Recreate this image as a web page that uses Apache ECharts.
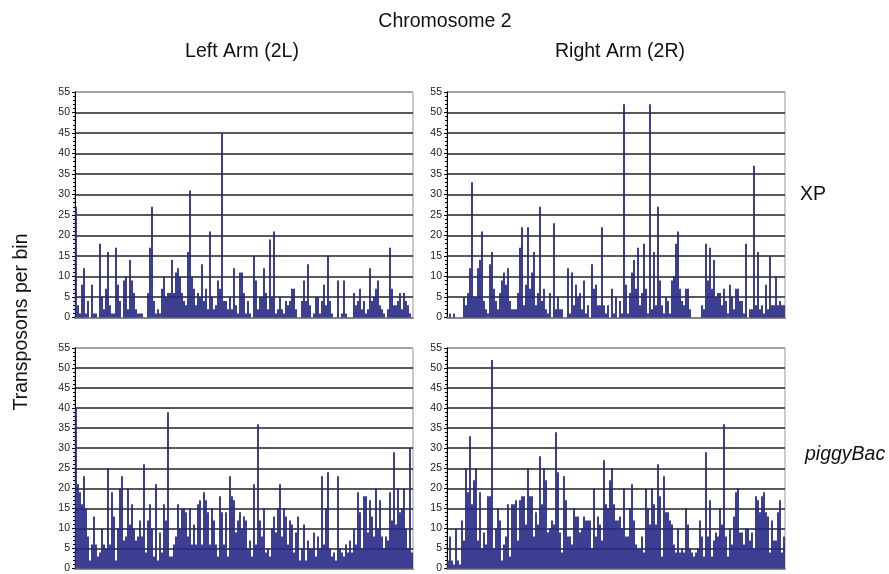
<!DOCTYPE html>
<html>
<head>
<meta charset="utf-8">
<style>
html, body { margin: 0; padding: 0; background: #fff; }
#chart { width: 889px; height: 574px; }
</style>
<script src="https://cdn.jsdelivr.net/npm/echarts@6/dist/echarts.min.js"></script>
</head>
<body>
<div id="chart"></div>
<script>
// transposons per bin (169 bins per arm)
var xpLeft = [27,3,1,8,12,1,4,0,8,1, 1,0,18,5,2,7,16,3,1,1, 17,8,4,0,9,10,2,14,9,6, 2,1,1,1,0,0,6,17,27,4,
  1,2,1,7,10,5,6,6,14,6, 11,12,10,6,4,3,16,31,10,7, 3,6,5,13,4,7,2,21,5,2, 3,9,7,45,4,4,2,5,2,12,
  3,1,11,11,6,1,4,1,0,15, 9,2,5,5,12,6,2,19,5,21, 1,2,5,2,1,4,3,4,7,7, 2,0,0,4,9,4,13,3,0,1,
  5,5,1,4,8,3,15,4,1,0, 0,9,0,1,9,1,0,0,0,6, 3,4,7,2,4,1,2,12,4,5, 7,9,3,2,1,0,2,17,7,3,
  3,4,6,2,6,4,3,1,0]
var xpRight = [0,1,0,1,0,0,0,0,5,3, 6,12,33,5,5,12,14,21,4,2, 1,13,16,7,4,2,6,9,11,8, 12,4,2,2,2,6,17,22,3,8,
  22,7,11,16,3,6,27,4,7,2, 1,6,0,23,2,5,2,2,0,0, 12,1,11,3,8,5,6,2,9,1, 3,0,13,7,8,3,3,22,3,1,
  3,0,7,1,5,0,4,1,52,8, 1,6,11,14,7,17,3,6,18,7, 1,52,2,16,3,27,9,3,1,5, 4,1,9,10,18,21,7,4,3,7,
  7,2,0,0,0,0,0,3,2,18, 9,17,7,14,5,6,6,3,7,4, 1,8,5,2,7,7,4,4,1,18, 0,2,2,37,3,16,2,3,1,8,
  2,15,3,3,10,3,4,3,3]
var pbLeft = [40,21,19,16,23,15,8,2,6,13, 6,3,4,10,6,5,25,6,19,13, 2,10,20,23,7,8,20,11,16,10, 7,8,12,8,26,4,12,16,10,3,
  21,2,9,4,16,12,39,3,3,6, 8,16,10,15,15,14,8,15,6,11, 6,16,17,6,19,17,14,6,15,12, 6,3,18,14,6,14,3,23,18,17,
  9,12,14,10,13,12,5,7,3,21, 6,36,12,8,15,4,5,3,10,13, 9,15,21,8,15,13,6,12,11,4, 9,13,2,5,11,2,7,5,5,9,
  3,8,5,23,6,15,24,5,3,4, 2,23,5,4,3,6,4,7,4,10, 6,19,14,5,18,18,9,17,13,8, 20,10,17,8,5,8,7,19,12,29,
  11,20,14,15,20,10,5,30,4]
var pbRight = [2,8,2,1,10,2,1,12,7,25, 19,33,16,22,25,7,19,5,9,6, 18,18,52,5,10,15,12,2,6,8, 16,3,16,16,17,7,17,18,18,11,
  25,18,18,8,14,11,28,16,25,22, 9,10,12,11,34,24,9,4,23,17, 8,8,6,15,13,13,9,10,13,12, 12,12,5,20,8,13,11,7,27,16,
  15,22,25,16,12,12,13,10,20,8, 8,15,21,12,6,5,5,8,4,20, 15,11,20,16,11,26,18,3,23,14, 14,12,11,6,4,10,4,5,4,15,
  11,5,4,3,4,5,12,8,3,29, 8,17,3,7,9,8,15,11,36,8, 3,10,6,13,19,20,9,9,6,10, 10,7,9,5,18,17,14,18,19,14,
  13,4,12,7,7,14,17,4,8]

var bins = []
for (var b = 1; b <= xpLeft.length; b++) bins.push(String(b))

var font = "'Liberation Sans', Arial, sans-serif"
var barColor = '#262a86'
// 0 line gray, 5..50 dark, 55 (frame top) gray
var lineColors = ['#888', '#222', '#222', '#222', '#222', '#222', '#222', '#222', '#222', '#222', '#222', '#999']

var panels = [
  { data: xpLeft, left: 75, top: 92, height: 225.5 },
  { data: xpRight, left: 447, top: 92, height: 225.5 },
  { data: pbLeft, left: 75, top: 348, height: 224 },
  { data: pbRight, left: 447, top: 348, height: 224 }
]

var grids = [], xAxes = [], yAxes = [], series = []
panels.forEach(function (p, i) {
  grids.push({
    left: p.left, top: p.top, width: 338, height: p.height,
    show: true, borderColor: '#999', borderWidth: 1
  })
  xAxes.push({
    type: 'category', gridIndex: i, data: bins,
    axisLine: { lineStyle: { color: '#888', width: 2 } },
    axisTick: { show: false },
    axisLabel: { show: false }
  })
  yAxes.push({
    type: 'value', gridIndex: i, min: 0, max: 55, interval: 5,
    axisLine: { show: true, lineStyle: { color: '#000', width: 1 } },
    axisTick: { show: true, length: 3, lineStyle: { color: '#000' } },
    minorTick: { show: true, splitNumber: 5, length: 2, lineStyle: { color: '#000' } },
    axisLabel: { fontSize: 10.5, color: '#222', margin: 5, fontFamily: font },
    splitLine: { show: true, lineStyle: { color: lineColors, width: 1.5 } }
  })
  series.push({
    type: 'bar', xAxisIndex: i, yAxisIndex: i, data: p.data,
    barCategoryGap: '10%', itemStyle: { color: barColor }, silent: true
  })
})

function txt (text, x, y, align, extra) {
  var s = { text: text, fontSize: 19.5, fill: '#111', fontFamily: font, align: align, verticalAlign: 'middle' }
  for (var k in extra) s[k] = extra[k]
  return { type: 'text', x: x, y: y, style: s, silent: true }
}

var yTitle = txt('Transposons per bin', 22, 322, 'center')
yTitle.rotation = Math.PI / 2

var chart = echarts.init(document.getElementById('chart'))
chart.setOption({
  animation: false,
  grid: grids,
  xAxis: xAxes,
  yAxis: yAxes,
  series: series,
  graphic: [
    txt('Chromosome 2', 445, 22, 'center'),
    txt('Left Arm (2L)', 242, 52, 'center'),
    txt('Right Arm (2R)', 620, 52, 'center'),
    txt('XP', 813, 195, 'center'),
    txt('piggyBac', 805, 455, 'left', { fontStyle: 'italic' }),
    yTitle
  ]
})
</script>
</body>
</html>
